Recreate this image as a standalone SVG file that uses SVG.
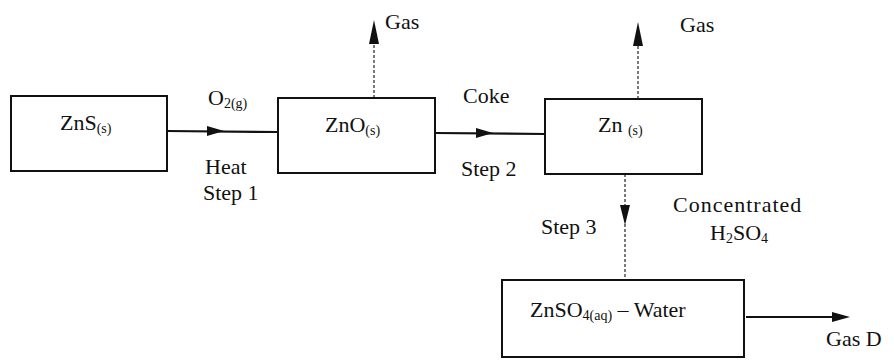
<svg xmlns="http://www.w3.org/2000/svg" width="894" height="360" viewBox="0 0 894 360">
<style>
.box{fill:#fff;stroke:#111;stroke-width:2}
.t{font-family:"Liberation Serif","DejaVu Serif",serif;font-size:22px;fill:#111}
.s{font-size:14px}
.solid{stroke:#111;stroke-width:2.2;fill:none}
.dash{stroke:#333;stroke-width:1.3;fill:none;stroke-dasharray:3 2}
.head{fill:#111}
</style>
<rect width="894" height="360" fill="#fff"/>
<g id="connectors">
<line class="solid" x1="167" y1="131" x2="278" y2="132"/>
<polygon class="head" points="207,126 224,131 207,136"/>
<line class="solid" x1="435" y1="133" x2="545" y2="134"/>
<polygon class="head" points="476,128 493,133 476,138"/>
<line class="dash" x1="374" y1="98" x2="374" y2="42"/>
<polygon class="head" points="369,44 374,20 379,44"/>
<line class="dash" x1="638" y1="99" x2="638" y2="44"/>
<polygon class="head" points="633,46 638,22 643,46"/>
<line class="dash" x1="625" y1="174" x2="625" y2="280"/>
<polygon class="head" points="620,205 630,205 625,225"/>
<line class="solid" x1="746" y1="317" x2="836" y2="317"/>
<polygon class="head" points="832,312 850,317 832,322"/>
</g>
<g id="zns">
<rect class="box" x="11" y="96" width="156" height="75"/>
<text class="t" x="60" y="130">ZnS<tspan class="s" dy="3">(s)</tspan></text>
</g>
<g id="zno">
<rect class="box" x="278" y="98" width="157" height="75"/>
<text class="t" x="325" y="132">ZnO<tspan class="s" dy="3">(s)</tspan></text>
</g>
<g id="zn">
<rect class="box" x="545" y="99" width="157" height="75"/>
<text class="t" x="598" y="132">Zn <tspan class="s" dy="3">(s)</tspan></text>
</g>
<g id="znso4">
<rect class="box" x="502" y="280" width="242" height="77"/>
<text class="t" x="530" y="317">ZnSO<tspan class="s" dy="3">4(aq)</tspan><tspan dy="-3"> – Water</tspan></text>
</g>
<g id="labels">
<text class="t" x="208" y="105">O<tspan class="s" dy="3">2(g)</tspan></text>
<text class="t" x="205" y="174">Heat</text>
<text class="t" x="203" y="200">Step 1</text>
<text class="t" x="463" y="103">Coke</text>
<text class="t" x="461" y="176">Step 2</text>
<text class="t" x="385" y="29">Gas</text>
<text class="t" x="680" y="32">Gas</text>
<text class="t" x="541" y="234">Step 3</text>
<text class="t" x="673" y="212" letter-spacing="1">Concentrated</text>
<text class="t" x="710" y="240">H<tspan class="s" dy="3">2</tspan><tspan dy="-3">SO</tspan><tspan class="s" dy="3">4</tspan></text>
<text class="t" x="826" y="346">Gas  D</text>
</g>
</svg>
